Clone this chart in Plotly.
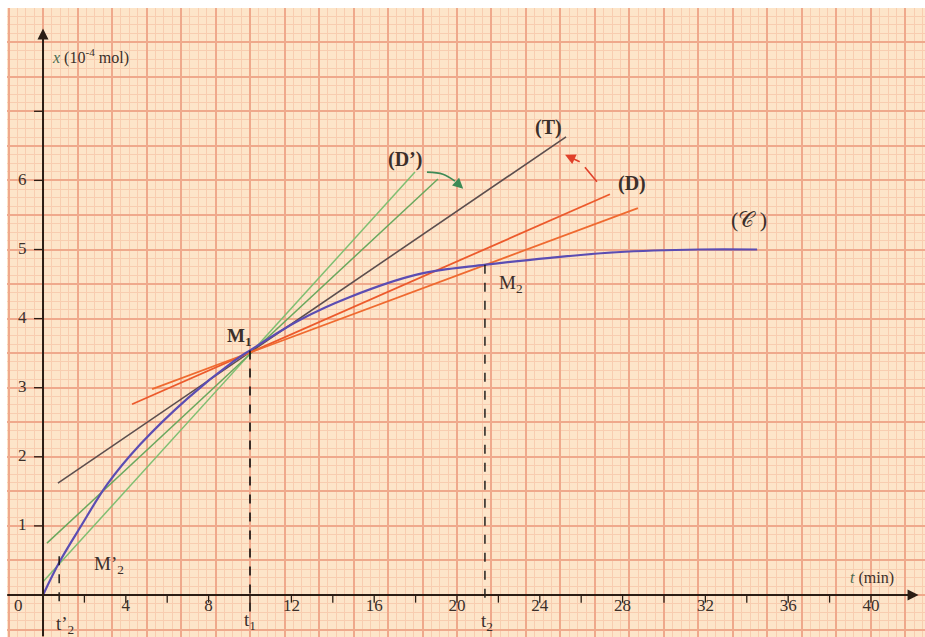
import plotly.graph_objects as go

# curve (C): x (10^-4 mol) vs t (min)
t_curve = [0, 0.8, 1.8, 3.1, 4.7, 7.0, 9.2, 10, 12.4, 14.8, 18.1, 21.4, 24.5, 27.7, 31.7, 34.5]
x_curve = [0, 0.48, 0.98, 1.60, 2.18, 2.85, 3.38, 3.54, 3.98, 4.31, 4.64, 4.78, 4.88, 4.96, 5.0, 5.0]

# straight lines through M1 (end points)
t_T, x_T = [0.72, 25.27], [1.62, 6.63]
t_D1, x_D1 = [4.30, 27.39], [2.76, 5.80]
t_D2, x_D2 = [5.27, 28.74], [2.98, 5.60]
t_G1, x_G1 = [0.19, 19.08], [0.75, 6.02]
t_G2, x_G2 = [0.0, 17.97], [0.19, 6.12]

# points of interest
t1, x1 = 10, 3.54
t2, x2 = 21.35, 4.78
t2p, x2p = 0.78, 0.56

# curved arrows
t_garrow, x_garrow = [18.55, 19.32, 19.9], [6.12, 6.09, 5.99]
t_rarrow, x_rarrow = [26.76, 26.18], [5.98, 6.19]

x_ticks = [0, 4, 8, 12, 16, 20, 24, 28, 32, 36, 40]
x_minor = list(range(2, 42, 2))
y_ticks = [1, 2, 3, 4, 5, 6]
y_minor = [1, 2, 3, 4, 5, 6, 7]

SERIF = "Liberation Serif"
TXT = "#3b2f2a"
AX = "#2b1d14"

fig = go.Figure()

def seg(t, x, color, width=1.6, dash=None, shape="linear"):
    fig.add_trace(go.Scatter(x=t, y=x, mode="lines",
                             line=dict(color=color, width=width, dash=dash, shape=shape),
                             hoverinfo="skip", showlegend=False))

seg(t_G2, x_G2, "#7fbf72", 1.5)
seg(t_G1, x_G1, "#6aa85e", 1.5)
seg(t_T, x_T, "#5c4e4e", 1.6)
seg(t_D1, x_D1, "#ec5a2c", 1.8)
seg(t_D2, x_D2, "#ef6a30", 1.8)
seg(t_curve, x_curve, "#5b4db3", 2.2, shape="spline")

# dashed guides
seg([t1, t1], [x1, -0.25], "#111111", 1.6, "dash")
seg([t2, t2], [x2, -0.15], "#111111", 1.4, "dash")
seg([t2p, t2p], [x2p, -0.16], "#111111", 1.4, "dash")

# curved arrows
seg(t_garrow, x_garrow, "#3d8a55", 1.6, shape="spline")
seg(t_rarrow, x_rarrow, "#e0402a", 1.6, shape="spline")

# axis tick marks
fig.add_trace(go.Scatter(x=x_minor, y=[-0.05] * len(x_minor), mode="markers",
                         marker=dict(symbol="line-ns", size=6, line=dict(color=AX, width=1.3)),
                         hoverinfo="skip", showlegend=False))
fig.add_trace(go.Scatter(x=[-0.2] * len(y_minor), y=y_minor, mode="markers",
                         marker=dict(symbol="line-ew", size=7, line=dict(color=AX, width=1.3)),
                         hoverinfo="skip", showlegend=False))

# tick labels (the "0" sits left of the vertical axis)
x_label_pos = [v if v else -1.2 for v in x_ticks]
fig.add_trace(go.Scatter(x=x_label_pos, y=[-0.17] * len(x_ticks), mode="text",
                         text=[str(v) for v in x_ticks],
                         textfont=dict(family=SERIF, size=17, color=TXT),
                         hoverinfo="skip", showlegend=False))
fig.add_trace(go.Scatter(x=[-1.0] * len(y_ticks), y=y_ticks, mode="text",
                         text=[str(v) for v in y_ticks],
                         textfont=dict(family=SERIF, size=17, color=TXT),
                         hoverinfo="skip", showlegend=False))

ann = []
# axes with arrow heads
ann.append(dict(x=42.3, y=0, ax=-1.8, ay=0, xref="x", yref="y", axref="x", ayref="y",
                showarrow=True, arrowhead=2, arrowsize=1.1, arrowwidth=2, arrowcolor=AX, text=""))
ann.append(dict(x=0, y=8.2, ax=0, ay=-0.62, xref="x", yref="y", axref="x", ayref="y",
                showarrow=True, arrowhead=2, arrowsize=1.1, arrowwidth=2, arrowcolor=AX, text=""))
# arrow heads of the curved arrows
ann.append(dict(x=20.3, y=5.88, ax=19.9, ay=5.99, xref="x", yref="y", axref="x", ayref="y",
                showarrow=True, arrowhead=2, arrowsize=1.3, arrowwidth=1.6, arrowcolor="#3d8a55", text=""))
ann.append(dict(x=25.22, y=6.37, ax=26.0, ay=6.26, xref="x", yref="y", axref="x", ayref="y",
                showarrow=True, arrowhead=2, arrowsize=1.3, arrowwidth=1.6, arrowcolor="#e0402a", text=""))

def label(x, y, text, size=18, xanchor="center", color=TXT):
    ann.append(dict(x=x, y=y, xref="x", yref="y", text=text, showarrow=False,
                    xanchor=xanchor, font=dict(family=SERIF, size=size, color=color)))

label(0.34, 7.79, "<span style='color:#4a6a50'><i>x</i></span> (10<sup>-4</sup> mol)", 16, "left")
label(38.9, 0.25, "<span style='color:#4a6a50'><i>t</i></span> (min)", 16, "left")
label(24.4, 6.77, "<b>(T)</b>", 20)
label(28.45, 5.95, "<b>(D)</b>", 20)
label(17.5, 6.30, "<b>(D’)</b>", 20)
label(34.1, 5.43, "(𝒞 )", 22)
label(9.5, 3.73, "<b>M<sub>1</sub></b>", 19)
label(22.6, 4.50, "M<sub>2</sub>", 19)
label(3.2, 0.43, "M’<sub>2</sub>", 19)
label(10.0, -0.37, "t<sub>1</sub>", 19)
label(21.45, -0.39, "t<sub>2</sub>", 19)
label(1.06, -0.43, "t’<sub>2</sub>", 19)

fig.update_layout(
    width=925, height=637,
    margin=dict(l=7, r=0, t=8, b=0),
    paper_bgcolor="white",
    plot_bgcolor="#fde5c9",
    annotations=ann,
    xaxis=dict(range=[-1.74, 42.61], tick0=0, dtick=5 / 3, showgrid=True,
               gridcolor="#efa98c", gridwidth=1.6, zeroline=False, showticklabels=False,
               ticks="", minor=dict(dtick=5 / 12, showgrid=True, gridcolor="#f8cdb0", gridwidth=1)),
    yaxis=dict(range=[-0.608, 8.495], tick0=0, dtick=0.5, showgrid=True,
               gridcolor="#efa98c", gridwidth=1.6, zeroline=False, showticklabels=False,
               ticks="", minor=dict(dtick=0.125, showgrid=True, gridcolor="#f8cdb0", gridwidth=1)),
)

fig.write_html("out.html", config={"displayModeBar": False},
               post_script="document.body.style.margin='0';")
